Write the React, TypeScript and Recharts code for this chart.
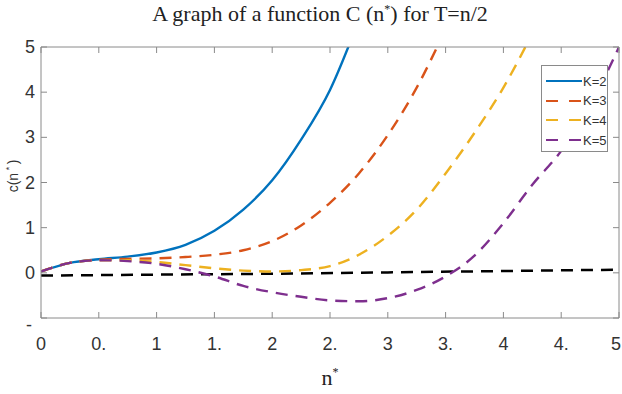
import { Line, LineChart, XAxis, YAxis } from "recharts";

const X_TICKS = [0, 0.5, 1, 1.5, 2, 2.5, 3, 3.5, 4, 4.5, 5];
const X_TICK_LABELS = ["0", "0.", "1", "1.", "2", "2.", "3", "3.", "4", "4.", "5"];
const Y_TICKS = [-1, 0, 1, 2, 3, 4, 5];
const Y_TICK_LABELS = ["-", "0", "1", "2", "3", "4", "5"];

// values, n* on x
const N_K2 = [0, 0.25, 0.5, 0.75, 1, 1.25, 1.5, 1.75, 2, 2.25, 2.5, 2.75];
const C_K2 = [0.03, 0.22, 0.3, 0.36, 0.45, 0.62, 0.93, 1.4, 2.05, 2.95, 4.05, 5.6];

const N_K3 = [0, 0.25, 0.5, 0.75, 1, 1.25, 1.5, 1.75, 2, 2.25, 2.5, 2.75, 3, 3.25, 3.5];
const C_K3 = [0.03, 0.22, 0.29, 0.31, 0.32, 0.35, 0.4, 0.5, 0.7, 1.05, 1.55, 2.2, 3.05, 4.1, 5.4];

const N_K4 = [0, 0.25, 0.5, 0.75, 1, 1.25, 1.5, 1.75, 2, 2.25, 2.5, 2.75, 3, 3.25, 3.5, 3.75, 4, 4.25];
const C_K4 = [0.03, 0.22, 0.28, 0.28, 0.24, 0.17, 0.1, 0.05, 0.03, 0.06, 0.15, 0.4, 0.82, 1.4, 2.2, 3.1, 4.1, 5.3];

const N_K5 = [0, 0.25, 0.5, 0.75, 1, 1.25, 1.5, 1.75, 2, 2.25, 2.5, 2.75, 3, 3.25, 3.5, 3.75, 4, 4.25, 4.5, 4.75, 5];
const C_K5 = [0.03, 0.22, 0.28, 0.26, 0.2, 0.08, -0.08, -0.29, -0.43, -0.53, -0.61, -0.63, -0.56, -0.38, -0.08, 0.38, 1.1, 1.95, 2.7, 3.7, 5.0];

const N_BASE = [0, 1, 2, 3, 4, 5];
const C_BASE = [-0.06, -0.04, -0.02, 0.01, 0.04, 0.07];

const LEGEND_LABELS = ["K=2", "K=3", "K=4", "K=5"];
const COLORS = ["#0072bd", "#d95319", "#edb120", "#7e2f8e"];
const DASHES = [undefined, "12 8", "12 8", "12 8"];

const FRAME = "#8a8a8a";
const TEXT = "#333";
const SANS = "'Liberation Sans', Arial, sans-serif";
const SERIF = "'Liberation Serif', 'Times New Roman', serif";

const toPoints = (xs: number[], ys: number[]) => xs.map((x, i) => ({ x, y: ys[i] }));

const SERIES = [
  toPoints(N_K2, C_K2),
  toPoints(N_K3, C_K3),
  toPoints(N_K4, C_K4),
  toPoints(N_K5, C_K5),
];
const BASELINE = toPoints(N_BASE, C_BASE);

function BottomTick({ x, y, index }: any) {
  const isLast = index === X_TICK_LABELS.length - 1;
  return (
    <g>
      <line x1={x} x2={x} y1={y} y2={y - 6} stroke={FRAME} />
      <text
        x={isLast ? x + 2 : x}
        y={y + 32}
        textAnchor={isLast ? "end" : "middle"}
        fontSize={18}
        fill={TEXT}
        fontFamily={SANS}
      >
        {X_TICK_LABELS[index]}
      </text>
    </g>
  );
}

function TopTick({ x, y }: any) {
  return <line x1={x} x2={x} y1={y} y2={y + 6} stroke={FRAME} />;
}

function LeftTick({ x, y, index }: any) {
  const isMinus = index === 0;
  return (
    <g>
      <line x1={x} x2={x + 6} y1={y} y2={y} stroke={FRAME} />
      <text
        x={isMinus ? x - 9 : x - 6}
        y={isMinus ? y + 13 : y + 6}
        textAnchor="end"
        fontSize={18}
        fill={TEXT}
        fontFamily={SANS}
      >
        {Y_TICK_LABELS[index]}
      </text>
    </g>
  );
}

function RightTick({ x, y }: any) {
  return <line x1={x} x2={x - 6} y1={y} y2={y} stroke={FRAME} />;
}

function ChartLegend() {
  return (
    <div
      style={{
        position: "absolute",
        left: 541,
        top: 65,
        width: 67,
        height: 87,
        border: `1px solid ${FRAME}`,
        background: "#fff",
        boxSizing: "border-box",
      }}
    >
      {LEGEND_LABELS.map((label, i) => (
        <div
          key={label}
          style={{
            position: "absolute",
            left: 3,
            top: 6 + i * 19.7,
            display: "flex",
            alignItems: "center",
            height: 18,
          }}
        >
          <svg width={38} height={18}>
            <line
              x1={1}
              x2={37}
              y1={9}
              y2={9}
              stroke={COLORS[i]}
              strokeWidth={2.2}
              strokeDasharray={DASHES[i] ? "12 11" : undefined}
            />
          </svg>
          <span style={{ fontFamily: SANS, fontSize: 13, color: TEXT }}>{label}</span>
        </div>
      ))}
    </div>
  );
}

export default function App() {
  return (
    <div style={{ position: "absolute", left: 0, top: 0, width: 622, height: 394, background: "#fff" }}>
      <LineChart
        width={622}
        height={394}
        margin={{ top: 46, right: 2, bottom: 75, left: 40 }}
        style={{ position: "absolute", left: 0, top: 0 }}
      >
        <XAxis
          xAxisId="bottom"
          type="number"
          dataKey="x"
          domain={[0, 5]}
          ticks={X_TICKS}
          interval={0}
          allowDataOverflow
          height={1}
          tickSize={0}
          tickMargin={0}
          tickLine={false}
          axisLine={{ stroke: FRAME }}
          tick={<BottomTick />}
          label={{
            content: () => (
              <text x={330} y={385} textAnchor="middle" fontFamily={SERIF} fontSize={22} fill="#222">
                n
                <tspan dy={-9} fontSize={12}>
                  *
                </tspan>
              </text>
            ),
          }}
        />
        <XAxis
          xAxisId="top"
          orientation="top"
          type="number"
          dataKey="x"
          domain={[0, 5]}
          ticks={X_TICKS}
          interval={0}
          allowDataOverflow
          height={1}
          tickSize={0}
          tickMargin={0}
          tickLine={false}
          axisLine={{ stroke: FRAME }}
          tick={<TopTick />}
        />
        <YAxis
          yAxisId="left"
          type="number"
          domain={[-1, 5]}
          ticks={Y_TICKS}
          interval={0}
          allowDataOverflow
          width={1}
          tickSize={0}
          tickMargin={0}
          tickLine={false}
          axisLine={{ stroke: FRAME }}
          tick={<LeftTick />}
          label={{
            content: () => (
              <text
                x={0}
                y={0}
                transform="translate(18 176) rotate(-90)"
                textAnchor="middle"
                fontFamily={SANS}
                fontSize={14}
                fill={TEXT}
              >
                c(n
                <tspan dy={-6} fontSize={9}>
                  {"   *   "}
                </tspan>
                <tspan dy={6}>)</tspan>
              </text>
            ),
          }}
        />
        <YAxis
          yAxisId="right"
          orientation="right"
          type="number"
          domain={[-1, 5]}
          ticks={Y_TICKS}
          interval={0}
          allowDataOverflow
          width={1}
          tickSize={0}
          tickMargin={0}
          tickLine={false}
          axisLine={{ stroke: FRAME }}
          tick={<RightTick />}
        />
        <Line
          xAxisId="bottom"
          yAxisId="left"
          data={BASELINE}
          dataKey="y"
          type="linear"
          stroke="#000"
          strokeWidth={2.5}
          strokeDasharray="12 8"
          dot={false}
          activeDot={false}
          legendType="none"
          isAnimationActive={false}
        />
        {SERIES.map((points, i) => (
          <Line
            key={LEGEND_LABELS[i]}
            xAxisId="bottom"
            yAxisId="left"
            data={points}
            dataKey="y"
            name={LEGEND_LABELS[i]}
            type="monotone"
            stroke={COLORS[i]}
            strokeWidth={2.4}
            strokeDasharray={DASHES[i]}
            dot={false}
            activeDot={false}
            isAnimationActive={false}
          />
        ))}
      </LineChart>
      <div
        style={{
          position: "absolute",
          left: 0,
          top: 1,
          width: 640,
          textAlign: "center",
          fontFamily: SERIF,
          fontSize: 22,
          color: "#222",
        }}
      >
        A graph of a function C (n<sup style={{ fontSize: 12 }}>*</sup>) for T=n/2
      </div>
      <ChartLegend />
    </div>
  );
}
